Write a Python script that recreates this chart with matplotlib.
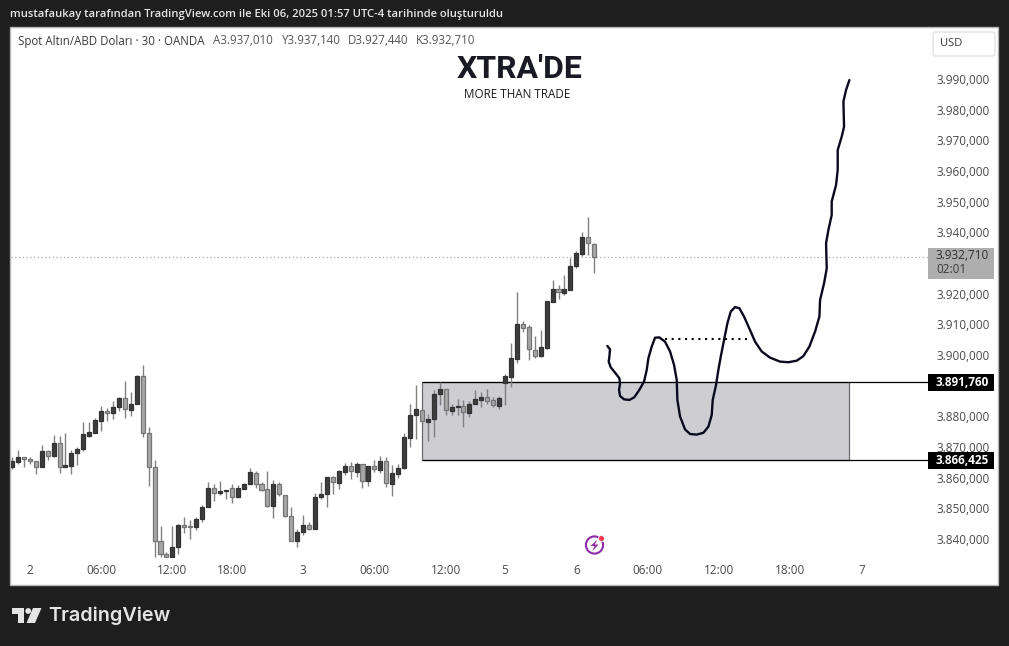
import matplotlib
matplotlib.use("Agg")
import matplotlib.pyplot as plt
from matplotlib.patches import Rectangle, Circle, Polygon, FancyBboxPatch
from matplotlib.transforms import Affine2D, ScaledTranslation

opens = [3864.0,3865.9,3867.3,3866.6,3866.0,3864.3,3869.3,3867.8,3871.9,3864.0,3864.6,3868.6,3869.9,3874.4,3875.3,3879.3,3882.3,3881.6,3883.6,3886.5,3882.8,3884.6,3893.8,3875.1,3864.0,3839.9,3835.7,3834.7,3837.9,3845.1,3844.8,3844.5,3847.1,3851.0,3857.2,3855.6,3856.4,3857.2,3854.5,3857.1,3858.5,3862.1,3858.5,3856.9,3851.5,3858.5,3854.9,3848.1,3839.9,3842.8,3845.1,3844.0,3854.2,3855.2,3860.8,3859.0,3862.6,3864.4,3862.6,3865.0,3859.5,3864.4,3863.3,3866.0,3858.7,3862.0,3863.7,3873.7,3881.0,3882.6,3878.9,3879.9,3887.8,3889.5,3882.5,3883.8,3883.9,3881.9,3884.6,3886.1,3886.9,3885.9,3884.1,3891.4,3893.6,3899.5,3910.7,3909.7,3902.4,3900.4,3903.0,3918.0,3922.1,3921.0,3922.0,3929.8,3933.7,3939.0,3937.01]
highs = [3867.3,3869.7,3867.3,3867.5,3866.0,3871.3,3869.7,3874.6,3874.3,3875.1,3869.7,3870.8,3878.7,3878.8,3880.0,3884.0,3883.3,3885.5,3886.9,3892.2,3888.6,3894.1,3897.4,3877.1,3866.4,3844.9,3836.4,3844.9,3845.6,3847.7,3846.9,3847.7,3851.8,3859.3,3858.5,3859.6,3856.6,3858.5,3858.3,3858.8,3863.7,3862.8,3859.1,3862.8,3859.9,3859.3,3854.9,3851.0,3843.9,3848.5,3846.1,3855.6,3859.4,3860.8,3861.2,3863.2,3865.6,3865.8,3865.7,3865.0,3864.4,3866.4,3867.6,3867.3,3864.7,3865.1,3875.1,3884.7,3890.9,3882.6,3881.3,3889.3,3891.8,3889.5,3884.6,3886.4,3886.0,3885.7,3889.3,3888.7,3889.6,3887.1,3887.3,3894.5,3904.6,3921.2,3911.7,3910.3,3906.9,3908.8,3918.3,3925.1,3923.5,3926.9,3932.2,3934.7,3940.7,3945.5,3937.14]
lows = [3863.4,3865.1,3864.3,3865.1,3861.9,3864.3,3866.4,3867.3,3862.3,3864.0,3861.9,3864.8,3869.5,3873.8,3875.3,3876.0,3879.3,3879.8,3882.5,3880.2,3880.9,3884.6,3874.0,3858.0,3834.7,3834.7,3834.7,3834.7,3835.7,3842.7,3840.6,3843.6,3846.3,3851.0,3853.2,3854.9,3853.8,3852.3,3854.5,3856.9,3858.5,3857.4,3856.4,3851.0,3847.6,3854.8,3848.0,3839.9,3838.2,3841.9,3843.5,3844.0,3853.6,3851.2,3855.5,3857.1,3861.6,3860.3,3861.0,3857.2,3858.1,3862.6,3862.3,3857.7,3854.8,3860.7,3863.4,3870.5,3873.2,3878.6,3872.7,3873.8,3884.4,3881.0,3881.0,3881.0,3877.2,3880.5,3884.6,3883.8,3884.6,3883.8,3883.2,3884.4,3890.3,3898.2,3908.3,3899.1,3899.8,3900.1,3902.5,3918.0,3919.0,3920.3,3922.0,3929.0,3932.9,3933.3,3927.44]
closes = [3866.0,3867.3,3866.6,3866.0,3864.3,3869.3,3867.8,3871.9,3864.0,3864.7,3868.6,3869.9,3874.8,3875.5,3879.4,3882.3,3881.6,3883.6,3886.5,3883.0,3884.6,3893.8,3875.1,3864.0,3839.9,3835.7,3834.7,3837.9,3845.1,3844.5,3844.5,3847.1,3851.0,3857.2,3855.6,3856.2,3856.6,3854.3,3857.2,3858.5,3862.4,3858.5,3856.8,3851.5,3858.5,3855.2,3848.1,3839.9,3842.8,3845.1,3844.0,3854.3,3855.2,3860.8,3859.1,3862.7,3864.4,3862.7,3865.0,3859.5,3864.4,3863.4,3866.0,3858.8,3862.1,3863.7,3873.8,3881.0,3883.0,3879.0,3879.8,3887.8,3889.5,3882.6,3883.6,3884.0,3882.0,3884.6,3886.2,3886.9,3885.8,3884.3,3886.5,3893.7,3899.7,3910.7,3909.6,3902.5,3900.4,3903.2,3918.3,3922.1,3921.1,3922.1,3929.6,3933.8,3939.0,3937.1,3932.71]

path_bars = [100.22,100.67,100.56,100.45,100.79,101.52,102.24,102.36,102.19,102.36,103.03,103.93,104.77,105.61,106.40,106.85,107.13,107.69,108.25,108.98,109.93,110.78,111.45,111.90,112.01,112.46,113.30,114.14,115.26,116.39,117.23,117.79,117.96,118.52,118.91,119.31,119.87,120.43,120.99,121.72,122.45,123.23,124.24,125.09,126.21,127.61,129.29,130.70,132.10,133.22,134.23,135.19,135.92,136.03,136.70,137.15,137.04,137.43,137.99,137.99,138.72,139.00,139.00,139.68,140.07,139.96,140.41,140.97]
path_prices = [3903.6,3902.5,3900.1,3898.5,3896.65,3894.9,3893.1,3891.4,3889.3,3887.3,3886.2,3886.0,3886.9,3889.3,3892.0,3895.8,3899.6,3903.4,3906.3,3906.4,3905.0,3901.8,3897.4,3892.5,3886.0,3880.6,3876.4,3874.9,3874.7,3875.3,3877.3,3881.1,3886.0,3890.9,3895.8,3900.1,3905.6,3911.0,3914.8,3916.3,3915.9,3913.2,3908.8,3905.0,3901.8,3899.8,3898.5,3898.3,3898.8,3900.3,3903.4,3908.3,3913.2,3918.6,3924.0,3928.9,3937.1,3941.4,3946.3,3950.7,3956.1,3961.0,3967.5,3971.9,3975.1,3983.3,3987.1,3990.3]

zone_top, zone_bottom = 3891.76, 3866.425
zone_bars = (69.0, 140.9)
level_price, level_bars = 3906.0, (109.93, 123.68)
last_price = 3932.71

price_ticks = [3840,3850,3860,3870,3880,3900,3910,3920,3940,3950,3960,3970,3980,3990]
price_labels = ["3.840,000","3.850,000","3.860,000","3.870,000","3.880,000","3.900,000","3.910,000","3.920,000","3.940,000","3.950,000","3.960,000","3.970,000","3.980,000","3.990,000"]
time_ticks = [3,15,27,37,49,61,73,83,95,107,119,131,143]
time_labels = ["2","06:00","12:00","18:00","3","06:00","12:00","5","6","06:00","12:00","18:00","7"]

W, H = 1009, 646
FONT = "Open Sans"
BG = "#1e1e1e"
fig = plt.figure(figsize=(W/100, H/100), dpi=100, facecolor=BG)
px = Affine2D().scale(1/W, -1/H).translate(0, 1) + fig.transFigure

fig.add_artist(Rectangle((10, 27), 988, 558, transform=px, fc="white", ec="#b4b4b4", lw=1, zorder=-1))
fig.text(10/W, 1-15/H, "mustafaukay tarafından TradingView.com ile Eki 06, 2025 01:57 UTC-4 tarihinde oluşturuldu",
         family=FONT, fontsize=8.14, fontweight="semibold", color="#e6e6e6", va="center")

L, R, T, B = 11, 928, 28, 558
ax = fig.add_axes([L/W, 1-B/H, (R-L)/W, (B-T)/H], facecolor="none")
ax.set_xlim(-0.17, 154.2)
ax.set_ylim(3834.47, 4007.28)
for s in ax.spines.values():
    s.set_visible(False)

ax.add_patch(Rectangle((zone_bars[0], zone_bottom), zone_bars[1]-zone_bars[0], zone_top-zone_bottom,
                       fc="#cdcdd2", ec="#6a6a6e", lw=0.9, zorder=1))
ax.hlines([zone_top, zone_bottom], zone_bars[0], 154.2, color="black", lw=0.9, zorder=1.5)
ax.axhline(last_price, color="#a8a8a8", lw=0.9, ls=(0, (1, 2)), zorder=1.2)

bars = range(len(opens))
ax.vlines(bars, lows, highs, color="#808080", lw=1, zorder=2)
for i in bars:
    up = closes[i] >= opens[i]
    ax.bar(i, max(abs(closes[i]-opens[i]), 0.35), bottom=min(opens[i], closes[i]), width=0.68,
           color="#3d3d3d" if up else "#a6a6a6", edgecolor="#333333" if up else "#767676", lw=0.9, zorder=3)

ax.plot(path_bars, path_prices, color="#0a0a1e", lw=1.7, solid_capstyle="round", solid_joinstyle="round", zorder=4)
ax.plot(level_bars, [level_price]*2, color="black", lw=1.5, ls=(0, (1, 2.2)), zorder=4)

ax.yaxis.tick_right()
ax.set_yticks(price_ticks, price_labels)
ax.set_xticks(time_ticks, time_labels)
ax.tick_params(axis="y", length=0, pad=5.8, labelsize=8.5, labelcolor="#4a4a4a")
ax.tick_params(axis="x", length=0, pad=4.5, labelsize=8.5, labelcolor="#4a4a4a")
shift = ScaledTranslation(0, 2/100, fig.dpi_scale_trans)
for lab in ax.get_yticklabels():
    lab.set_fontfamily(FONT)
    lab.set_transform(lab.get_transform() + shift)
for lab in ax.get_xticklabels():
    lab.set_fontfamily(FONT)

def box(x, y, w, h, color, z=6):
    fig.add_artist(Rectangle((x, y), w, h, transform=px, fc=color, ec="none", zorder=z))

box(928, 248, 66, 30.5, "#aeaeae")
box(928, 374, 66, 17, "#000000")
box(928, 452, 66, 17, "#000000")
for x, y, s, c, w in [(936, 255.5, "3.932,710", "#2e2e2e", "normal"), (936, 270, "02:01", "#3c3c3c", "normal"),
                      (936, 382, "3.891,760", "white", "bold"), (936, 460, "3.866,425", "white", "bold")]:
    fig.text(x/W, 1-y/H, s, family=FONT, fontsize=8.5, color=c, fontweight=w, va="center", zorder=7)

fig.add_artist(FancyBboxPatch((933, 32), 62, 24, boxstyle="round,pad=0,rounding_size=3", transform=px,
                              fc="white", ec="#e2e2e2", lw=1, zorder=6))
fig.text(940/W, 1-44/H, "USD", family=FONT, fontsize=8, color="#3a3a3a", va="center", zorder=7)

fig.text(18/W, 1-41/H, "Spot Altın/ABD Doları · 30 · OANDA", family=FONT, fontsize=8.3, color="#3a3a3a", va="center")
for x, s in [(213, "A3.937,010"), (282, "Y3.937,140"), (348, "D3.927,440"), (416, "K3.932,710")]:
    fig.text(x/W, 1-41/H, s, family=FONT, fontsize=8.3, color="#555555", va="center")

fig.text(520/W, 1-69.5/H, "XTRA'DE", family="Roboto", fontsize=23, fontweight="bold", color="#1a1a24", ha="center", va="center", zorder=7)
fig.text(517.5/W, 1-95/H, "MORE THAN TRADE", family=FONT, fontsize=8.4, color="#1a1a1a", ha="center", va="center", zorder=7)

# lightning badge
fig.add_artist(Circle((594.5, 545), 8.6, transform=px, fc="none", ec="#8e2aa8", lw=1.5, zorder=7))
fig.add_artist(Polygon([(597.5, 539.5), (590.5, 546), (594.5, 546), (592, 551.5), (598.5, 544.5), (594.8, 544.5)],
                       closed=True, transform=px, fc="#8e2aa8", ec="none", zorder=7))
fig.add_artist(Circle((601.5, 538.5), 3, transform=px, fc="#ef3a50", ec="white", lw=0.6, zorder=8))

# TradingView logo
logo = "#e4e4e4"
fig.add_artist(Polygon([(12, 608), (24, 608), (24, 623), (18, 623), (18, 614), (12, 614)], closed=True, transform=px, fc=logo, ec="none"))
fig.add_artist(Circle((28.2, 611), 2.9, transform=px, fc=logo, ec="none"))
fig.add_artist(Polygon([(33, 608), (41.5, 608), (35, 623), (26.5, 623)], closed=True, transform=px, fc=logo, ec="none"))
fig.text(48/W, 1-616/H, "TradingView", family="Inter", fontsize=14.25, fontweight="semibold", color=logo, va="center")

fig.savefig("out.png", dpi=100, facecolor=BG)
